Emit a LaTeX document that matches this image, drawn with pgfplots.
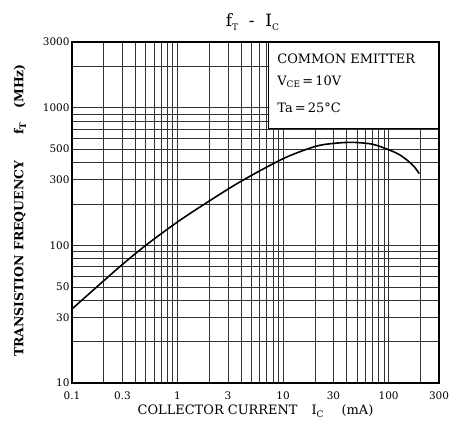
\documentclass[border=0pt]{standalone}
\usepackage{pgfplots}
\pgfplotsset{compat=1.18}
\usepackage{fontspec}
\setmainfont{DejaVu Serif}
\newcommand{\sub}[1]{\raisebox{-0.4ex}{\fontsize{9}{10}\selectfont #1}}
\begin{document}
\begin{tikzpicture}
\begin{axis}[
  name=main,
  scale only axis, width=367bp, height=341bp,
  xmode=log, ymode=log,
  xmin=0.1, xmax=300, ymin=10, ymax=3000,
  xtick={0.1,0.3,1,3,10,30,100,300},
  xticklabels={0.1,0.3,1,3,10,30,100,300},
  ytick={10,30,50,100,300,500,1000,3000},
  yticklabels={10,30,50,100,300,500,1000,3000},
  minor xtick={0.2,0.4,0.5,0.6,0.7,0.8,0.9,2,4,5,6,7,8,9,20,40,50,60,70,80,90,200},
  minor ytick={20,40,60,70,80,90,200,400,600,700,800,900,2000},
  grid=both,
  major grid style={black!80, line width=0.55bp},
  minor grid style={black!80, line width=0.55bp},
  major tick length=0pt, minor tick length=0pt,
  axis line style={line width=1.3bp},
  /pgf/number format/assume math mode=true,
  ticklabel style={font=\fontsize{10.5}{12}\selectfont},
  xticklabel style={yshift=-5bp},
  yticklabel style={xshift=1bp},
]
\addplot[black, line width=1.6bp, smooth, tension=0.5] coordinates {
  (0.1,34.5) (0.2,55.3) (0.3,72.6) (0.5,100) (1,148) (2,210) (4,292)
  (10,426) (20,522) (30,550) (45,560) (70,543) (100,495) (125,458) (150,415) (175,372) (195,332)
};
\fill[white] (rel axis cs:0.534,0.748) rectangle (rel axis cs:1,1);
\draw[black, line width=0.8bp] (rel axis cs:0.534,1) -- (rel axis cs:0.534,0.748) -- (rel axis cs:1,0.748);
\draw[black, line width=1.3bp] (rel axis cs:0.534,1) -- (rel axis cs:1,1) -- (rel axis cs:1,0.748);
\node[anchor=west, font=\fontsize{13}{15}\selectfont] at (rel axis cs:0.55,0.950) {COMMON EMITTER};
\node[anchor=west, font=\fontsize{13}{15}\selectfont] at (rel axis cs:0.55,0.883) {V\sub{CE}\,=\,10V};
\node[anchor=west, font=\fontsize{13}{15}\selectfont] at (rel axis cs:0.55,0.806) {Ta\,=\,25°C};
\end{axis}
\node[font=\fontsize{17}{19}\selectfont] at ([xshift=-3bp,yshift=20bp]main.north) {f\sub{T}\ \ -\ \ I\sub{C}};
\node[font=\fontsize{13}{15}\selectfont] at ([yshift=-28bp]main.south) {COLLECTOR CURRENT\hspace{14bp}I\sub{C}\hspace{18bp}(mA)};
\node[rotate=90, font=\bfseries\fontsize{12.5}{15}\selectfont] at ([xshift=-52bp,yshift=2bp]main.west) {TRANSISTION FREQUENCY\hspace{26bp}f\sub{T}\hspace{14bp}(MHz)};
\pgfresetboundingbox
\path[use as bounding box] ([xshift=-72bp,yshift=-56bp]main.south west) rectangle ([xshift=11bp,yshift=42bp]main.north east);
\end{tikzpicture}
\end{document}
